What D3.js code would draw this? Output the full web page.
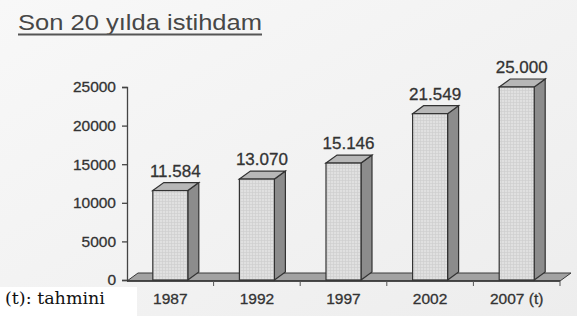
<!DOCTYPE html>
<html>
<head>
<meta charset="utf-8">
<script src="https://cdn.jsdelivr.net/npm/d3@7"></script>
<style>
  html, body { margin: 0; padding: 0; background: #f1f1f1; }
  svg { display: block; }
</style>
</head>
<body>
<div id="chart"></div>
<script>
// veriler
const years = ['1987', '1992', '1997', '2002', '2007 (t)'];
const values = [11584, 13070, 15146, 21549, 25000];
const valueLabels = ['11.584', '13.070', '15.146', '21.549', '25.000'];
const yTicks = [0, 5000, 10000, 15000, 20000, 25000];

const W = 577, H = 316;
const depthX = 11, depthY = 8;
const barW = 35;
const sans = 'Liberation Sans, Arial, sans-serif';

const svg = d3.select('#chart').append('svg')
  .attr('width', W)
  .attr('height', H);

// arka plan
const defs = svg.append('defs');
const grad = defs.append('linearGradient')
  .attr('id', 'bg').attr('x1', 0).attr('y1', 0).attr('x2', 1).attr('y2', 1);
grad.append('stop').attr('offset', 0).attr('stop-color', '#f8f8f8');
grad.append('stop').attr('offset', 1).attr('stop-color', '#ededed');
svg.append('rect').attr('width', W).attr('height', H).attr('fill', 'url(#bg)');

// ızgara deseni (ön yüz)
const pat = defs.append('pattern')
  .attr('id', 'grid')
  .attr('width', 3).attr('height', 3)
  .attr('patternUnits', 'userSpaceOnUse');
pat.append('rect').attr('width', 3).attr('height', 3).attr('fill', '#e0e0e0');
pat.append('path').attr('d', 'M0,0.5H3M0.5,0V3')
  .attr('stroke', '#cdcdcd').attr('stroke-width', 0.6);

const x = d3.scaleBand()
  .domain(years)
  .range([127, 560]);

const y = d3.scaleLinear()
  .domain([0, 25000])
  .range([280, 87]);

// başlık
svg.append('text')
  .attr('x', 18)
  .attr('y', 30)
  .attr('font-family', sans)
  .attr('font-size', 22.5)
  .attr('fill', '#474747')
  .attr('textLength', 244)
  .attr('lengthAdjust', 'spacingAndGlyphs')
  .text('Son 20 yılda istihdam');
svg.append('line')
  .attr('x1', 18).attr('x2', 262)
  .attr('y1', 34.5).attr('y2', 34.5)
  .attr('stroke', '#555').attr('stroke-width', 2);

// zemin
const y0 = y(0);
svg.append('path')
  .attr('d', `M${x.range()[0]},${y0 + 1} L${x.range()[0] + depthX},${y0 + 1 - depthY} L${x.range()[1] + depthX},${y0 + 1 - depthY} L${x.range()[1]},${y0 + 1} Z`)
  .attr('fill', '#a2a2a2')
  .attr('stroke', '#3a3a3a')
  .attr('stroke-width', 1);

// çubuklar
const bars = svg.selectAll('.bar')
  .data(years)
  .enter()
  .append('g')
  .attr('class', 'bar');

const barLeft = d => x(d) + x.bandwidth() / 2 - barW / 2;
const barTop = (d, i) => y(values[i]);

// yan yüz
bars.append('path')
  .attr('d', (d, i) => {
    const l = barLeft(d) + barW, t = barTop(d, i);
    return `M${l},${t} L${l + depthX},${t - depthY} L${l + depthX},${y0 - depthY} L${l},${y0} Z`;
  })
  .attr('fill', '#8c8c8c')
  .attr('stroke', '#333')
  .attr('stroke-width', 1.2);

// üst yüz
bars.append('path')
  .attr('d', (d, i) => {
    const l = barLeft(d), t = barTop(d, i);
    return `M${l},${t} L${l + depthX},${t - depthY} L${l + barW + depthX},${t - depthY} L${l + barW},${t} Z`;
  })
  .attr('fill', '#b7b7b7')
  .attr('stroke', '#333')
  .attr('stroke-width', 1.2);

// ön yüz
bars.append('rect')
  .attr('x', d => barLeft(d))
  .attr('y', (d, i) => barTop(d, i))
  .attr('width', barW)
  .attr('height', (d, i) => y0 - barTop(d, i))
  .attr('fill', 'url(#grid)')
  .attr('stroke', '#333')
  .attr('stroke-width', 1.2);

// değer etiketleri
bars.append('text')
  .attr('x', d => x(d) + x.bandwidth() / 2 + 5)
  .attr('y', (d, i) => barTop(d, i) - 14)
  .attr('text-anchor', 'middle')
  .attr('font-family', sans)
  .attr('font-size', 17)
  .attr('fill', '#333')
  .attr('stroke', '#333')
  .attr('stroke-width', 0.3)
  .text((d, i) => valueLabels[i]);

// y ekseni
const yAxis = svg.append('g')
  .attr('transform', 'translate(127,0)')
  .call(d3.axisLeft(y).tickValues(yTicks).tickFormat(d3.format('d')).tickSize(5).tickPadding(6));
yAxis.select('.domain').attr('stroke', '#444').attr('stroke-width', 1.3);
yAxis.selectAll('.tick line').attr('stroke', '#444').attr('stroke-width', 1.3);
yAxis.selectAll('text')
  .attr('font-family', sans)
  .attr('font-size', 15.5)
  .attr('fill', '#333')
  .attr('stroke', '#333')
  .attr('stroke-width', 0.3);

// x ekseni
const bounds = x.domain().map(d => x(d)).concat([x.range()[1]]);
const xAxis = svg.append('g').attr('class', 'x-axis');
xAxis.append('line')
  .attr('x1', x.range()[0]).attr('x2', x.range()[1])
  .attr('y1', y0 + 1).attr('y2', y0 + 1)
  .attr('stroke', '#333').attr('stroke-width', 1.3);
xAxis.selectAll('.xt')
  .data(bounds.slice(1))
  .enter()
  .append('line')
  .attr('x1', d => d).attr('x2', d => d)
  .attr('y1', y0 + 1).attr('y2', y0 + 6)
  .attr('stroke', '#555').attr('stroke-width', 1);
xAxis.selectAll('.xl')
  .data(years)
  .enter()
  .append('text')
  .attr('x', d => x(d) + x.bandwidth() / 2)
  .attr('y', 304)
  .attr('text-anchor', 'middle')
  .attr('font-family', sans)
  .attr('font-size', 15.5)
  .attr('fill', '#333')
  .attr('stroke', '#333')
  .attr('stroke-width', 0.3)
  .text(d => d);

// not kutusu
svg.append('rect')
  .attr('x', 0).attr('y', 287)
  .attr('width', 137).attr('height', H - 287)
  .attr('fill', '#fff');
svg.append('text')
  .attr('x', 5)
  .attr('y', 304)
  .attr('font-family', 'DejaVu Serif, serif')
  .attr('font-size', 17.5)
  .attr('fill', '#111')
  .text('(t): tahmini');
</script>
</body>
</html>
